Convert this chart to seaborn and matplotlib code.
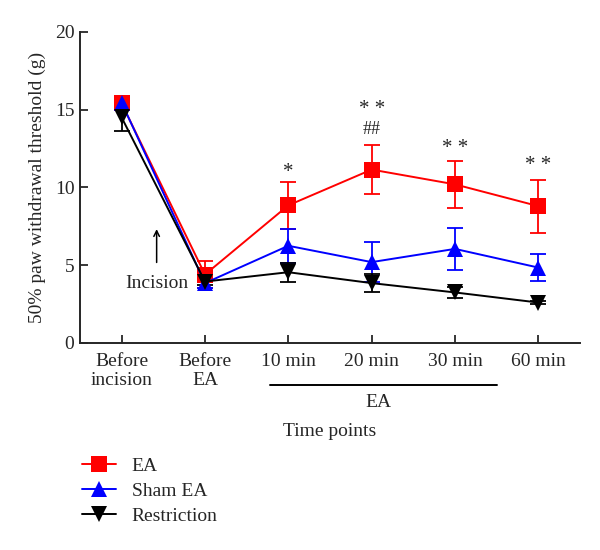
import numpy as np
import pandas as pd
import matplotlib
matplotlib.use('Agg')
import matplotlib.pyplot as plt
import seaborn as sns

time_labels = ['Before\nincision', 'Before\nEA', '10 min', '20 min', '30 min', '60 min']
groups = ['EA', 'Sham EA', 'Restriction']
ea_mean = [15.4, 4.4, 8.85, 11.15, 10.2, 8.8]
ea_err = [0.3, 0.85, 1.5, 1.6, 1.5, 1.7]
sham_mean = [15.45, 3.85, 6.25, 5.2, 6.05, 4.85]
sham_err = [0.2, 0.3, 1.1, 1.3, 1.35, 0.85]
restr_mean = [14.5, 3.95, 4.55, 3.85, 3.25, 2.6]
restr_err = [0.85, 0.25, 0.6, 0.6, 0.35, 0.1]
stars = ['', '', '*', '**', '**', '**']
star_y = [0, 0, 10.95, 15.0, 12.5, 11.4]
hash_marks = ['', '', '', '##', '', '']
hash_y = [0, 0, 0, 13.7, 0, 0]

colors = {'EA': '#ff0000', 'Sham EA': '#0000ff', 'Restriction': '#000000'}
markers = {'EA': 's', 'Sham EA': '^', 'Restriction': 'v'}

rows = []
for g, m, e in [('EA', ea_mean, ea_err), ('Sham EA', sham_mean, sham_err), ('Restriction', restr_mean, restr_err)]:
    for i in range(len(time_labels)):
        rows.append({'pos': i, 'group': g, 'value': m[i], 'err': e[i]})
df = pd.DataFrame(rows)

sns.set_style('ticks')
plt.rcParams['font.family'] = ['Liberation Serif', 'DejaVu Serif']
fs = 14

fig = plt.figure(figsize=(6, 5.5), dpi=100)
ax = fig.add_axes([0.1333, 0.3764, 0.8333, 0.5655])

for g in groups:
    sub = df[df.group == g]
    ax.errorbar(sub.pos, sub.value, yerr=sub.err, fmt='none', ecolor=colors[g],
                elinewidth=1.3, capsize=5.5, capthick=1.3, zorder=2)

sns.lineplot(data=df, x='pos', y='value', hue='group', style='group',
             palette=colors, markers=markers, dashes=False, markersize=11,
             markeredgewidth=0, linewidth=1.4, ax=ax, legend=False, zorder=3)

ax.set_xlim(-0.5, 5.5)
ax.set_ylim(0, 20)
ax.set_yticks([0, 5, 10, 15, 20])
ax.set_xticks(range(len(time_labels)))
ax.set_xticklabels(time_labels, fontsize=fs, linespacing=1.2)
ax.tick_params(axis='y', direction='in', length=6, width=1.3, labelsize=fs, pad=4)
ax.tick_params(axis='x', direction='in', length=6, width=1.3, labelsize=fs, pad=7)
ax.set_xlabel('')
ax.set_ylabel('50% paw withdrawal threshold (g)', fontsize=fs, labelpad=6)
for s in ['top', 'right']:
    ax.spines[s].set_visible(False)
for s in ['left', 'bottom']:
    ax.spines[s].set_linewidth(1.4)

for i in range(len(time_labels)):
    if stars[i]:
        ax.text(i, star_y[i], ' '.join(stars[i]), ha='center', va='center', fontsize=fs + 1)
    if hash_marks[i]:
        ax.text(i, hash_y[i], hash_marks[i], ha='center', va='center', fontsize=fs - 1)

ax.annotate('', xy=(0.42, 7.5), xytext=(0.42, 5.0),
            arrowprops=dict(arrowstyle='->', color='black', lw=1.1))
ax.text(0.42, 3.85, 'Incision', ha='center', va='center', fontsize=fs)

xt = ax.get_xaxis_transform()
ax.plot([1.78, 4.51], [-0.135, -0.135], color='black', lw=1.4, transform=xt, clip_on=False)
ax.text(3.08, -0.19, 'EA', ha='center', va='center', fontsize=fs, transform=xt)
ax.text(0.5, -0.283, 'Time points', ha='center', va='center', fontsize=fs, transform=ax.transAxes)

handles = [plt.Line2D([], [], color=colors[g], marker=markers[g], markersize=11,
                      markeredgewidth=0, lw=1.4) for g in groups]
fig.legend(handles, groups, loc='center left', bbox_to_anchor=(0.108, 0.107),
           frameon=False, fontsize=fs, handlelength=1.75, labelspacing=0.38, handletextpad=0.8)

fig.savefig('out.png', dpi=100)
